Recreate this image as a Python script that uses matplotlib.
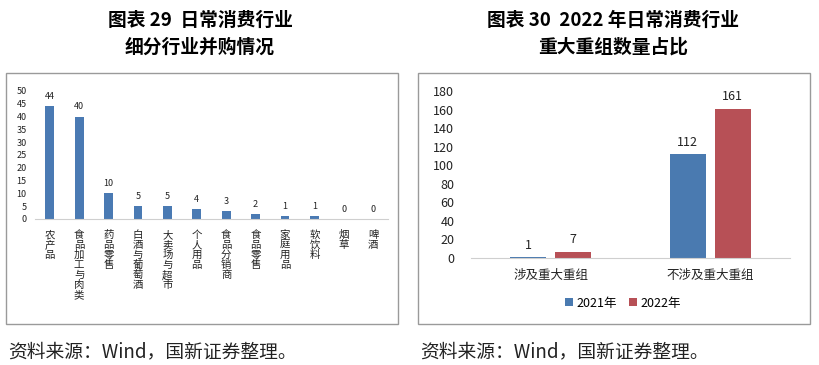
import matplotlib.pyplot as plt
from matplotlib.patches import Rectangle
import numpy as np

plt.rcParams['font.family'] = ['Noto Sans CJK SC', 'DejaVu Sans']

# left chart data
sub_industries = ["农产品", "食品加工与肉类", "药品零售", "白酒与葡萄酒", "大卖场与超市", "个人用品",
                  "食品分销商", "食品零售", "家庭用品", "软饮料", "烟草", "啤酒"]
deal_counts = [44, 40, 10, 5, 5, 4, 3, 2, 1, 1, 0, 0]

# right chart data
groups = ["涉及重大重组", "不涉及重大重组"]
count_2021 = [1, 112]
count_2022 = [7, 161]

W, H = 819, 365
fig = plt.figure(figsize=(W / 100, H / 100), dpi=100)

def rect(x0, y0, x1, y1):
    # pixel box (top-left origin) -> figure fraction
    return [x0 / W, 1 - y1 / H, (x1 - x0) / W, (y1 - y0) / H]

# frames
for x0 in (6, 418):
    fig.patches.append(Rectangle((x0 / W, 1 - 324 / H), 392 / W, 251 / H, transform=fig.transFigure,
                                 fill=False, edgecolor="#9a9a9a", linewidth=1.0))

# titles
fig.text(200 / W, 1 - 20 / H, "图表 29  日常消费行业", ha="center", va="center", fontsize=13.5, fontweight="bold")
fig.text(200 / W, 1 - 47 / H, "细分行业并购情况", ha="center", va="center", fontsize=13.5, fontweight="bold")
fig.text(613 / W, 1 - 20 / H, "图表 30  2022 年日常消费行业", ha="center", va="center", fontsize=13.5, fontweight="bold")
fig.text(613 / W, 1 - 47 / H, "重大重组数量占比", ha="center", va="center", fontsize=13.5, fontweight="bold")

# sources
fig.text(8 / W, 1 - 352 / H, "资料来源：Wind，国新证券整理。", ha="left", va="center", fontsize=13.5, color="#222222")
fig.text(420 / W, 1 - 352 / H, "资料来源：Wind，国新证券整理。", ha="left", va="center", fontsize=13.5, color="#222222")

# left chart
ax1 = fig.add_axes(rect(35, 91, 388, 219))
x = np.arange(len(sub_industries))
ax1.bar(x, deal_counts, width=0.3, color="#4a7ab3")
for xi, v in zip(x, deal_counts):
    ax1.text(xi, v + 2, str(v), ha="center", va="bottom", fontsize=6.5, color="#222222")
ax1.set_xlim(-0.5, len(sub_industries) - 0.5)
ax1.set_ylim(0, 50)
ax1.set_yticks(range(0, 51, 5))
ax1.set_xticks(x)
ax1.set_xticklabels(["\n".join(s) for s in sub_industries], fontsize=7.5, linespacing=1.0, va="top")
ax1.tick_params(axis="both", length=0, colors="#222222")
ax1.tick_params(axis="y", labelsize=6.5, pad=6)
ax1.tick_params(axis="x", pad=8)
for s in ("top", "right", "left"):
    ax1.spines[s].set_visible(False)
ax1.spines["bottom"].set_color("#cfcfcf")

# right chart
ax2 = fig.add_axes(rect(471, 91, 790, 258))
xg = np.arange(len(groups))
off, bw = 0.14, 0.225
ax2.bar(xg - off, count_2021, width=bw, color="#4a7ab0", label="2021年")
ax2.bar(xg + off, count_2022, width=bw, color="#b75056", label="2022年")
for xi, v in zip(xg - off, count_2021):
    ax2.text(xi, v + 6, str(v), ha="center", va="bottom", fontsize=9, color="#222222")
for xi, v in zip(xg + off, count_2022):
    ax2.text(xi, v + 6, str(v), ha="center", va="bottom", fontsize=9, color="#222222")
ax2.set_xlim(-0.5, 1.5)
ax2.set_ylim(0, 180)
ax2.set_yticks(range(0, 181, 20))
ax2.set_xticks(xg)
ax2.set_xticklabels(groups, fontsize=9)
ax2.tick_params(axis="both", length=0, colors="#222222", labelsize=9)
ax2.tick_params(axis="y", pad=12)
ax2.tick_params(axis="x", pad=8)
for s in ("top", "right", "left"):
    ax2.spines[s].set_visible(False)
ax2.spines["bottom"].set_color("#cfcfcf")
ax2.legend(loc="center", bbox_to_anchor=(623 / W, 1 - 303 / H), bbox_transform=fig.transFigure,
           ncol=2, frameon=False, fontsize=9, handlelength=0.6, handleheight=0.6,
           handletextpad=0.3, columnspacing=1.0)

fig.savefig("out.png", dpi=100)
